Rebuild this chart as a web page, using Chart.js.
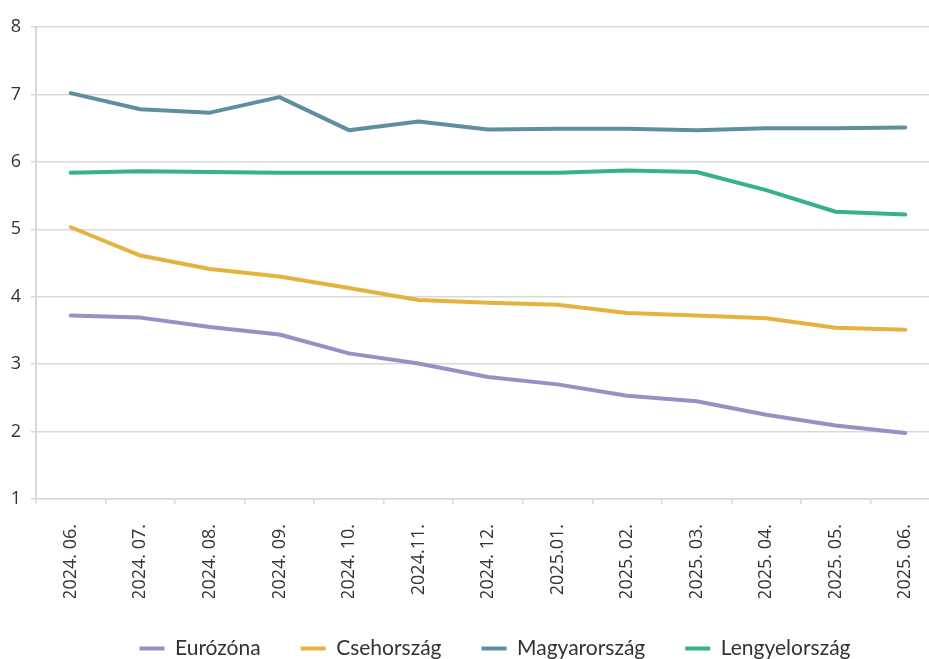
<!DOCTYPE html>
<html>
<head>
<meta charset="utf-8">
<script src="https://cdn.jsdelivr.net/npm/chart.js@4"></script>
<style>
  html, body { margin: 0; padding: 0; background: #fff; overflow: hidden; }
  #wrap { width: 929px; height: 659px; overflow: hidden; position: relative; }
  canvas { display: block; }
</style>
</head>
<body>
<div id="wrap"><canvas id="c" width="990" height="669"></canvas></div>
<script>
// Hónapok
const months = ['2024. 06.', '2024. 07.', '2024. 08.', '2024. 09.', '2024. 10.', '2024.11.',
  '2024. 12.', '2025.01.', '2025. 02.', '2025. 03.', '2025. 04.', '2025. 05.', '2025. 06.'];

// Sorozatok (%)
const eurozona = [3.72, 3.69, 3.55, 3.44, 3.16, 3.01, 2.81, 2.70, 2.53, 2.45, 2.25, 2.09, 1.98];
const csehorszag = [5.03, 4.61, 4.41, 4.30, 4.13, 3.95, 3.91, 3.88, 3.76, 3.72, 3.68, 3.54, 3.51];
const magyarorszag = [7.02, 6.78, 6.73, 6.96, 6.47, 6.60, 6.48, 6.49, 6.49, 6.47, 6.50, 6.50, 6.51];
const lengyelorszag = [5.84, 5.86, 5.85, 5.84, 5.84, 5.84, 5.84, 5.84, 5.87, 5.85, 5.58, 5.26, 5.22];

// Függőleges tengely
const yMin = 1, yMax = 8, yStep = 1;

const seriesNames = ['Eurózóna', 'Csehország', 'Magyarország', 'Lengyelország'];
const seriesData = [eurozona, csehorszag, magyarorszag, lengyelorszag];
const seriesColors = ['#9b8ec4', '#e6b23e', '#5e8fa0', '#38b08f'];

const gridColor = '#d9d9d9';
const textColor = '#333333';

// A jelmagyarázat vízszintes eltolása
const legendShift = {
  id: 'legendShift',
  afterUpdate(chart) {
    chart.legend.left += 25;
    chart.legend.right += 25;
  }
};

new Chart(document.getElementById('c'), {
  type: 'line',
  data: {
    labels: months,
    datasets: seriesNames.map((name, i) => ({
      label: name,
      data: seriesData[i],
      borderColor: seriesColors[i],
      backgroundColor: seriesColors[i],
      borderWidth: 4,
      borderCapStyle: 'round',
      borderJoinStyle: 'round',
      pointRadius: 0,
      tension: 0,
      fill: false
    }))
  },
  plugins: [legendShift],
  options: {
    responsive: false,
    animation: false,
    devicePixelRatio: 1,
    layout: { padding: { top: 27, right: 50, left: 0, bottom: 0 } },
    plugins: {
      tooltip: { enabled: false },
      legend: {
        position: 'bottom',
        labels: {
          usePointStyle: true,
          pointStyle: 'line',
          pointStyleWidth: 25,
          padding: 40,
          color: textColor,
          font: { family: 'Lato', size: 21 }
        }
      }
    },
    scales: {
      x: {
        offset: true,
        afterFit: s => { s.height = 99; },
        grid: {
          offset: true,
          drawOnChartArea: false,
          drawTicks: true,
          tickLength: 5,
          color: gridColor,
          lineWidth: 1.5
        },
        border: { color: gridColor, width: 1.5 },
        ticks: {
          minRotation: 90,
          maxRotation: 90,
          autoSkip: false,
          padding: 20,
          color: textColor,
          font: { family: 'Open Sans', size: 18 }
        }
      },
      y: {
        min: yMin,
        max: yMax,
        afterFit: s => { s.width = 36; },
        grid: {
          color: gridColor,
          lineWidth: 1.5,
          drawTicks: true,
          tickLength: 5
        },
        border: { color: gridColor, width: 2 },
        ticks: {
          stepSize: yStep,
          padding: 10,
          color: textColor,
          font: { family: 'Open Sans', size: 18 }
        }
      }
    }
  }
});
</script>
</body>
</html>
